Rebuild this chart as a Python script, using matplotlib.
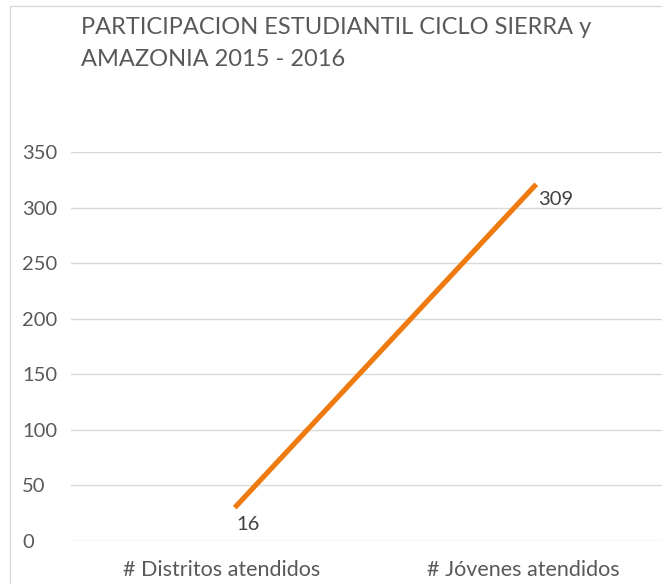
import matplotlib
matplotlib.use("Agg")
import matplotlib.pyplot as plt
import matplotlib.transforms as mtransforms
from matplotlib.patches import Rectangle

categories = ["# Distritos atendidos", "# Jóvenes atendidos"]
values = [30, 321]
value_labels = ["16", "309"]
yticks = [0, 50, 100, 150, 200, 250, 300, 350]
title = "PARTICIPACION ESTUDIANTIL CICLO SIERRA y\nAMAZONIA 2015 - 2016"

plt.rcParams['font.family'] = ['Lato', 'DejaVu Sans']
W, H = 662, 584
fig = plt.figure(figsize=(W / 100, H / 100), dpi=100)

# chart border
fig.patches.append(Rectangle((10 / W, -0.1), 1.2, (H - 6) / H + 0.1, transform=fig.transFigure,
                             fill=False, edgecolor='#d9d9d9', linewidth=1))

ax = fig.add_axes([71 / W, 43 / H, (674 - 71) / W, (541 - 152) / H])
x = list(range(len(categories)))
shift = mtransforms.ScaledTranslation(13 / 100, 0, fig.dpi_scale_trans)
ax.plot(x, values, color='#ef7b10', linewidth=3.7, solid_capstyle='butt',
        transform=ax.transData + shift)
ax.set_xlim(-0.5, len(categories) - 0.5)
ax.set_ylim(0, 350)
ax.set_yticks(yticks)
ax.set_yticklabels([str(t) for t in yticks])
ax.grid(axis='y', color='#d9d9d9', linewidth=1)
ax.set_axisbelow(True)
for s in ax.spines.values():
    s.set_visible(False)
ax.tick_params(axis='both', length=0, labelcolor='#595959')
ax.tick_params(axis='y', pad=35.3, labelsize=14.5)
for lbl in ax.get_yticklabels():
    lbl.set_horizontalalignment('left')

ax.set_xticks(x)
ax.set_xticklabels(categories)
ax.tick_params(axis='x', pad=14, labelsize=15.5)

# data labels
offsets = [(9.4, -12.2), (13.7, -10.8)]
for xi, v, t, off in zip(x, values, value_labels, offsets):
    ax.annotate(t, (xi, v), xycoords=ax.transData + shift, xytext=off,
                textcoords='offset points', ha='center', va='center',
                fontsize=14.5, color='#404040')

fig.text(81 / W, 1 - 17 / H, title, ha='left', va='top', fontsize=17, color='#595959',
         linespacing=1.65)

fig.savefig("out.png", dpi=100)
